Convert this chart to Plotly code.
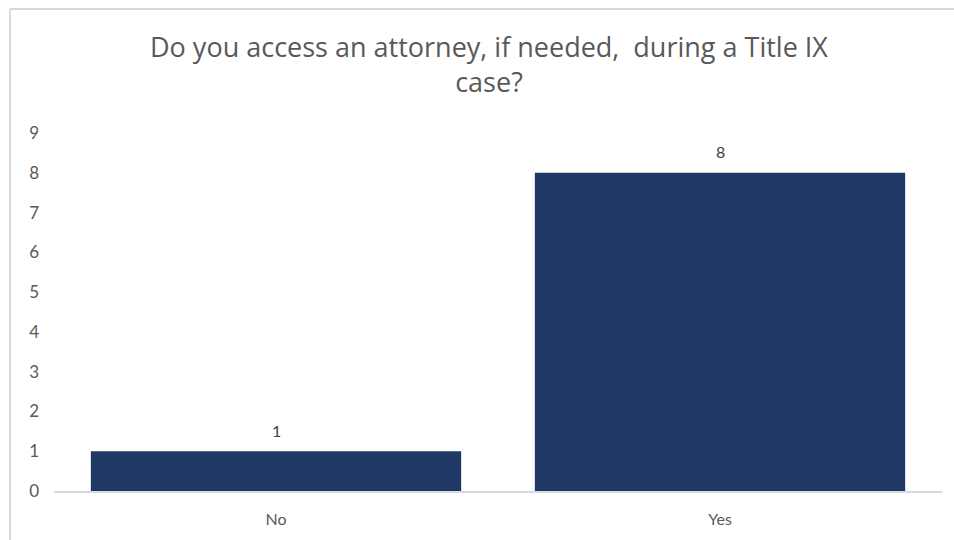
import plotly.graph_objects as go

categories = ["No", "Yes"]
counts = [1, 8]
y_ticks = list(range(0, 10))

W, H = 954, 540
ML, MR, MT, MB = 54, 12, 133, 49
plot_w = W - ML - MR
plot_h = H - MT - MB

fig = go.Figure(
    go.Bar(
        x=categories,
        y=counts,
        marker=dict(color="#203864", line=dict(width=0)),
        cliponaxis=False,
    )
)

# value labels above each bar
for cat, val in zip(categories, counts):
    fig.add_annotation(
        x=cat, y=val, text=str(val), showarrow=False,
        yanchor="middle", yshift=21,
        font=dict(family="Lato", size=16, color="#404040"),
    )

# light frame around the chart (top and left edges)
def px_to_paper_x(px):
    return (px - ML) / plot_w

def px_to_paper_y(py):
    return (H - MB - py) / plot_h

frame = dict(color="#d9d9d9", width=2)
fig.add_shape(type="line", xref="paper", yref="paper",
              x0=px_to_paper_x(10), x1=px_to_paper_x(W + 5),
              y0=px_to_paper_y(9), y1=px_to_paper_y(9), line=frame)
fig.add_shape(type="line", xref="paper", yref="paper",
              x0=px_to_paper_x(10), x1=px_to_paper_x(10),
              y0=px_to_paper_y(9), y1=px_to_paper_y(H + 5), line=frame)

fig.update_layout(
    width=W,
    height=H,
    margin=dict(l=ML, r=MR, t=MT, b=MB),
    paper_bgcolor="white",
    plot_bgcolor="white",
    bargap=0.166,
    showlegend=False,
    title=dict(
        text="Do you access an attorney, if needed,  during a Title IX<br>case?",
        x=489 / W,
        xref="container",
        xanchor="center",
        y=1 - 57 / H,
        yanchor="middle",
        font=dict(family="Open Sans", size=27, color="#595959"),
    ),
    xaxis=dict(
        showline=True,
        linecolor="#d9d9d9",
        linewidth=2,
        showgrid=False,
        ticks="",
        tickfont=dict(family="Lato", size=16, color="#595959"),
        ticklabelstandoff=13,
    ),
    yaxis=dict(
        range=[0, 9],
        tickvals=y_ticks,
        showgrid=False,
        zeroline=False,
        showline=False,
        ticks="",
        tickfont=dict(family="Lato", size=17, color="#595959"),
        ticklabelstandoff=14,
    ),
)

fig.write_html("out.html")
